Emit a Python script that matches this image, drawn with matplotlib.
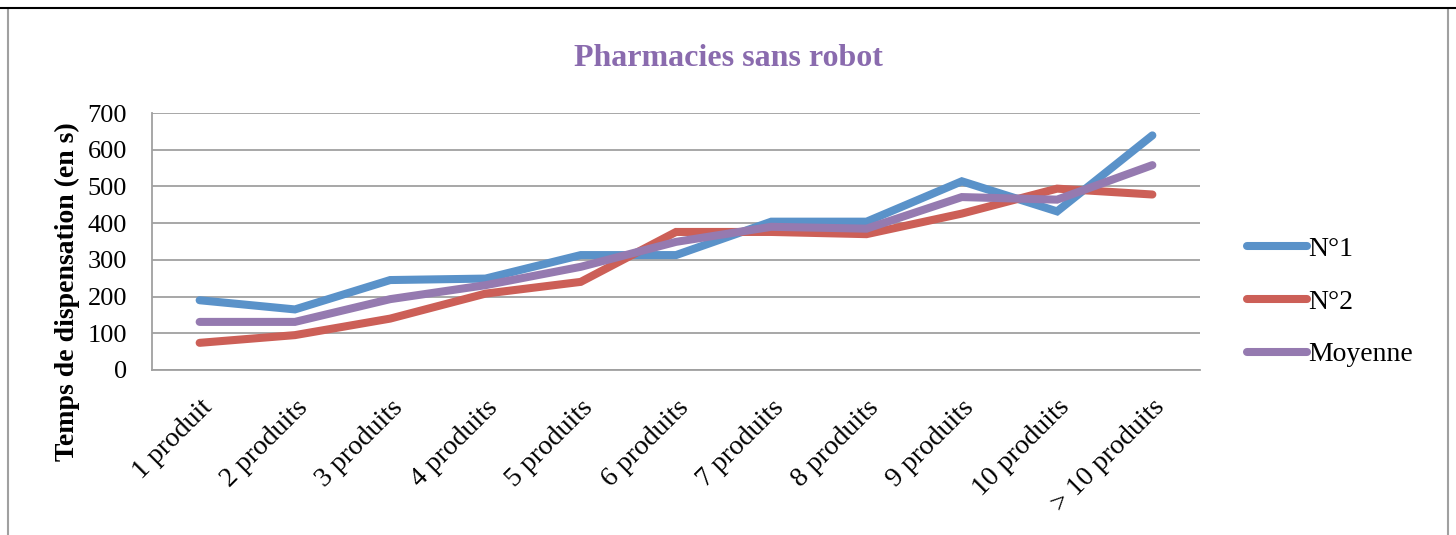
import matplotlib
matplotlib.use('Agg')
import matplotlib.pyplot as plt
from matplotlib.lines import Line2D

categories = ['1 produit', '2 produits', '3 produits', '4 produits', '5 produits',
              '6 produits', '7 produits', '8 produits', '9 produits', '10 produits',
              '> 10 produits']
n1 = [190, 165, 245, 249, 313, 313, 404, 404, 514, 432, 639]
n2 = [74, 95, 140, 208, 240, 376, 376, 370, 426, 494, 478]
moyenne = [131, 131, 193, 231, 281, 349, 390, 385, 471, 464, 558]

W, H = 1456, 535
plt.rcParams['font.family'] = ['Liberation Serif', 'DejaVu Serif']

fig = plt.figure(figsize=(W / 100, H / 100), dpi=100)
ax = fig.add_axes([152 / W, 1 - 370 / H, (1200 - 152) / W, (370 - 113) / H])

x = list(range(len(categories)))
lw = 5.8
ax.plot(x, n1, color='#5A92C9', lw=lw, solid_capstyle='round', solid_joinstyle='miter', label='N°1')
ax.plot(x, n2, color='#CC5F57', lw=lw, solid_capstyle='round', solid_joinstyle='miter', label='N°2')
ax.plot(x, moyenne, color='#957AB0', lw=lw, solid_capstyle='round', solid_joinstyle='miter', label='Moyenne')

ax.set_xlim(-0.5, len(categories) - 0.5)
ax.set_ylim(0, 700)
ax.set_yticks(range(0, 701, 100))
ax.set_xticks(x)
ax.set_xticklabels(categories, rotation=45, ha='right', rotation_mode='anchor')
ax.tick_params(axis='both', length=0)
ax.tick_params(axis='y', pad=18, labelsize=19)
ax.tick_params(axis='x', pad=18, labelsize=20)
ax.grid(axis='y', color='#A0A0A0', lw=1.3)
ax.set_axisbelow(True)
for s in ['top', 'right']:
    ax.spines[s].set_visible(False)
for s in ['left', 'bottom']:
    ax.spines[s].set_color('#A0A0A0')
    ax.spines[s].set_linewidth(1.3)

fig.text(728 / W, 1 - 58 / H, 'Pharmacies sans robot', ha='center', va='center',
         fontsize=23, fontweight='bold', color='#8A6BAE')
fig.text(67 / W, 1 - 292 / H, 'Temps de dispensation (en s)', ha='center', va='center',
         rotation=90, fontsize=20, fontweight='bold')

leg = ax.legend(loc='center left', bbox_to_anchor=(1247 / W, 1 - 302 / H),
                bbox_transform=fig.transFigure, frameon=False, fontsize=20,
                handlelength=2.15, handletextpad=0.05, labelspacing=0.98,
                borderpad=0, borderaxespad=0)

# chart frame
fig.add_artist(Line2D([8 / W, 8 / W], [0, 1 - 10 / H], transform=fig.transFigure, color='#A0A0A0', lw=1.5))
fig.add_artist(Line2D([1448 / W, 1448 / W], [0, 1 - 10 / H], transform=fig.transFigure, color='#A0A0A0', lw=1.5))
fig.add_artist(Line2D([0, 1], [1 - 8 / H, 1 - 8 / H], transform=fig.transFigure, color='black', lw=1.5))

fig.savefig('out.png', dpi=100)
